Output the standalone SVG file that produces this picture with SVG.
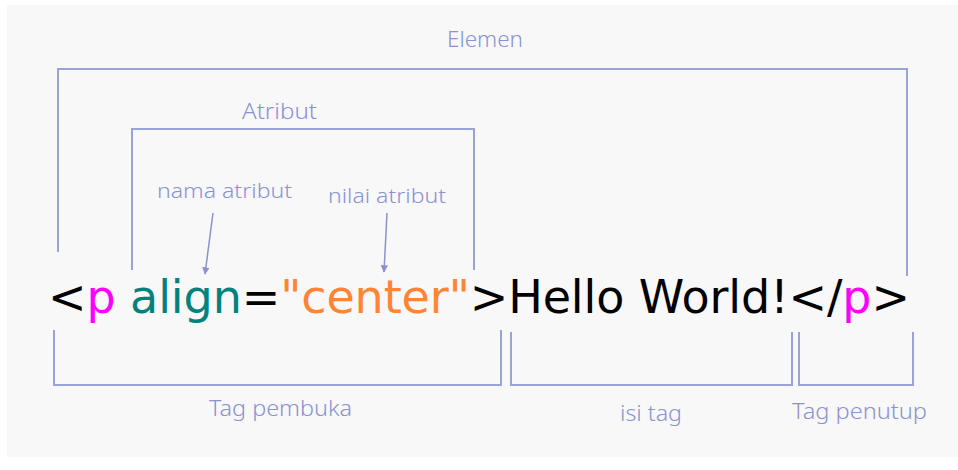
<svg xmlns="http://www.w3.org/2000/svg" width="958" height="470" viewBox="0 0 958 470">
<defs>
<style>
.br{fill:none;stroke:#9aa2da;stroke-width:2}
.lb{font-family:"Noto Sans",sans-serif;fill:#8a92d2;font-weight:300}
.code{font-family:"DejaVu Sans",sans-serif;font-size:46px;fill:#000}
</style>
<marker id="ah" viewBox="0 0 10 10" refX="9" refY="5" markerWidth="5" markerHeight="5" orient="auto">
<path d="M0,0 L10,5 L0,10 z" fill="#8a92d2"/>
</marker>
</defs>
<rect x="0" y="0" width="958" height="470" fill="#ffffff"/>
<rect x="7" y="5" width="951" height="452" fill="#f8f8f8"/>
<g id="connectors">
<path id="elemen-bracket" class="br" d="M58,252 V69 H907 V276"/>
<path id="atribut-bracket" class="br" d="M132,270 V129 H474 V270"/>
<path id="pembuka-bracket" class="br" d="M54,330 V385 H501 V330"/>
<path id="isi-bracket" class="br" d="M511,332 V385 H792 V332"/>
<path id="penutup-bracket" class="br" d="M799,332 V385 H913 V332"/>
<line id="arrow-nama" x1="213" y1="213" x2="205" y2="274" stroke="#8a92d2" stroke-width="1.5" marker-end="url(#ah)"/>
<line id="arrow-nilai" x1="387" y1="213" x2="384" y2="272" stroke="#8a92d2" stroke-width="1.5" marker-end="url(#ah)"/>
</g>
<g id="code">
<text class="code" x="48" y="313" textLength="862" lengthAdjust="spacing"><tspan>&lt;</tspan><tspan fill="#ff00ff">p</tspan> <tspan fill="#00827c">align</tspan><tspan>=</tspan><tspan fill="#ff8534">"center"</tspan><tspan>&gt;Hello World!&lt;/</tspan><tspan fill="#ff00ff">p</tspan><tspan>&gt;</tspan></text>
</g>
<g id="label-elemen"><text class="lb" x="447" y="47" font-size="21" textLength="76" lengthAdjust="spacingAndGlyphs">Elemen</text></g>
<g id="label-atribut"><text class="lb" x="242" y="119" font-size="22" textLength="75" lengthAdjust="spacingAndGlyphs">Atribut</text></g>
<g id="label-nama"><text class="lb" x="157" y="198" font-size="20" textLength="135" lengthAdjust="spacingAndGlyphs">nama atribut</text></g>
<g id="label-nilai"><text class="lb" x="328" y="203" font-size="20" textLength="118" lengthAdjust="spacingAndGlyphs">nilai atribut</text></g>
<g id="label-pembuka"><text class="lb" x="209" y="416" font-size="22" textLength="143" lengthAdjust="spacingAndGlyphs">Tag pembuka</text></g>
<g id="label-isi"><text class="lb" x="620" y="421" font-size="22" textLength="62" lengthAdjust="spacingAndGlyphs">isi tag</text></g>
<g id="label-penutup"><text class="lb" x="792" y="419" font-size="22" textLength="135" lengthAdjust="spacingAndGlyphs">Tag penutup</text></g>
</svg>
